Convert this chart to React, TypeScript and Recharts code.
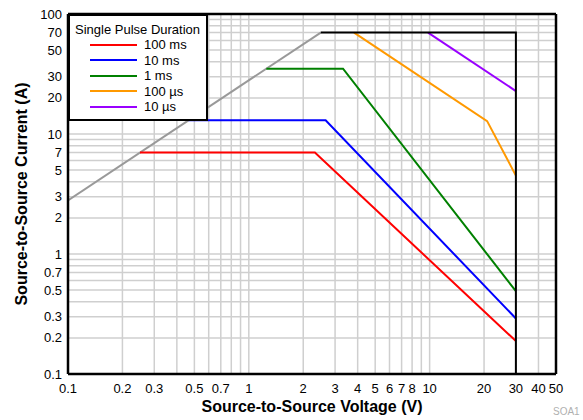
import { LineChart, Line, XAxis, YAxis, ReferenceLine, Legend } from 'recharts';

const xTicks = [0.1, 0.2, 0.3, 0.5, 0.7, 1, 2, 3, 4, 5, 6, 7, 8, 10, 20, 30, 40, 50];
const yTicks = [0.1, 0.2, 0.3, 0.5, 0.7, 1, 2, 3, 5, 7, 10, 20, 30, 50, 70, 100];
const xGrid = [0.2, 0.3, 0.4, 0.5, 0.6, 0.7, 0.8, 0.9, 1, 2, 3, 4, 5, 6, 7, 8, 9, 10, 20, 30, 40];
const yGrid = [0.2, 0.3, 0.4, 0.5, 0.6, 0.7, 0.8, 0.9, 1, 2, 3, 4, 5, 6, 7, 8, 9, 10, 20, 30, 40, 50, 60, 70, 80, 90];

// R_DS(on) limit and package / voltage limit
const rdsV = [0.1, 2.5];
const rdsI = [2.8, 70];
const limitV = [2.5, 30, 30];
const limitI = [70, 70, 0.1];

// single pulse curves
const v100ms = [0.25, 2.32, 30];
const i100ms = [7, 7, 0.188];
const v10ms = [0.464, 2.66, 30];
const i10ms = [13, 13, 0.29];
const v1ms = [1.25, 3.32, 30];
const i1ms = [35, 35, 0.49];
const v100us = [3.82, 20.8, 30];
const i100us = [70, 12.8, 4.5];
const v10us = [9.8, 30];
const i10us = [70, 22.8];

const pulseNames = ['100 ms', '10 ms', '1 ms', '100 µs', '10 µs'];
const pulseColors = ['#ff0000', '#0000ff', '#008000', '#ff9900', '#9900ff'];

const pts = (v: number[], i: number[]) => v.map((x, k) => ({ x, y: i[k] }));

const pulses = [
  pts(v100ms, i100ms),
  pts(v10ms, i10ms),
  pts(v1ms, i1ms),
  pts(v100us, i100us),
  pts(v10us, i10us),
];

const font = '"Liberation Sans", Arial, Helvetica, sans-serif';

function PulseLegend() {
  return (
    <div
      style={{
        width: 140,
        height: 107,
        boxSizing: 'border-box',
        border: '2px solid #000',
        background: '#fff',
        fontFamily: font,
        fontSize: 13,
        color: '#000',
        position: 'relative',
      }}
    >
      <div style={{ position: 'absolute', left: 5, top: 6, whiteSpace: 'nowrap' }}>Single Pulse Duration</div>
      {pulseNames.map((name, k) => (
        <div key={name} style={{ position: 'absolute', left: 20, top: 21 + k * 15.5, height: 15, display: 'flex', alignItems: 'center' }}>
          <div style={{ width: 47, height: 2, background: pulseColors[k] }} />
          <span style={{ marginLeft: 7, whiteSpace: 'nowrap' }}>{name}</span>
        </div>
      ))}
    </div>
  );
}

export default function App() {
  const tickStyle = { fontFamily: font, fontSize: 13, fill: '#000' };
  return (
    <div style={{ position: 'absolute', left: 0, top: 0, width: 583, height: 420, overflow: 'hidden', background: '#fff' }}>
      <LineChart width={583} height={420} margin={{ top: 14, right: 27, bottom: 16, left: 8 }}>
        <XAxis
          dataKey="x"
          type="number"
          scale="log"
          domain={[0.1, 50]}
          ticks={xTicks}
          interval={0}
          height={30}
          tick={tickStyle}
          tickLine={false}
          axisLine={false}
          tickSize={6}
          tickMargin={4}
          allowDataOverflow
        />
        <YAxis
          dataKey="y"
          type="number"
          scale="log"
          domain={[0.1, 100]}
          ticks={yTicks}
          interval={0}
          width={60}
          tick={tickStyle}
          tickLine={false}
          axisLine={false}
          tickSize={4}
          tickMargin={2}
          allowDataOverflow
        />
        {xGrid.map((v) => (
          <ReferenceLine key={'gx' + v} x={v} stroke="#cfcfcf" strokeWidth={1.5} />
        ))}
        {yGrid.map((v) => (
          <ReferenceLine key={'gy' + v} y={v} stroke="#cfcfcf" strokeWidth={1.5} />
        ))}
        <Line data={pts(rdsV, rdsI)} dataKey="y" stroke="#999999" strokeWidth={2} dot={false} isAnimationActive={false} />
        {pulses.map((d, k) => (
          <Line key={pulseNames[k]} data={d} dataKey="y" stroke={pulseColors[k]} strokeWidth={2} dot={false} isAnimationActive={false} />
        ))}
        <Line data={pts(limitV, limitI)} dataKey="y" stroke="#000" strokeWidth={2} dot={false} isAnimationActive={false} />
        <ReferenceLine x={0.1} stroke="#000" strokeWidth={2.5} />
        <ReferenceLine x={50} stroke="#000" strokeWidth={2.5} />
        <ReferenceLine y={0.1} stroke="#000" strokeWidth={2.5} />
        <ReferenceLine y={100} stroke="#000" strokeWidth={2.5} />
        <Legend
          layout="vertical"
          align="center"
          verticalAlign="middle"
          content={() => <PulseLegend />}
          wrapperStyle={{ left: 68, top: 14, width: 140, height: 107, margin: 0 }}
        />
      </LineChart>
      <div
        style={{
          position: 'absolute',
          left: 312,
          top: 407,
          transform: 'translate(-50%, -50%)',
          fontFamily: font,
          fontSize: 16,
          fontWeight: 'bold',
          whiteSpace: 'nowrap',
        }}
      >
        Source-to-Source Voltage (V)
      </div>
      <div
        style={{
          position: 'absolute',
          left: 22,
          top: 194,
          transform: 'translate(-50%, -50%) rotate(-90deg)',
          fontFamily: font,
          fontSize: 16,
          fontWeight: 'bold',
          whiteSpace: 'nowrap',
        }}
      >
        Source-to-Source Current (A)
      </div>
      <div style={{ position: 'absolute', left: 553, top: 406, fontFamily: font, fontSize: 10, color: '#b0b0b0', whiteSpace: 'nowrap' }}>
        SOA1
      </div>
    </div>
  );
}
